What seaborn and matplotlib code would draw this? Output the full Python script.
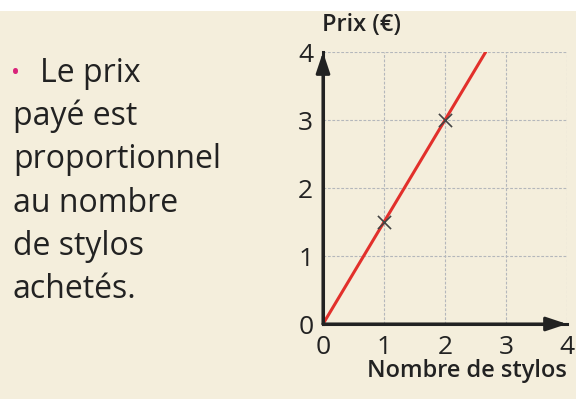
import numpy as np
import pandas as pd
import seaborn as sns
import matplotlib.pyplot as plt
from matplotlib.patches import Rectangle

# points marques sur le graphique
stylos = [1, 2]
prix = [1.5, 3]
prix_unitaire = 1.5

ticks = [0, 1, 2, 3, 4]
tick_labels = ['0', '1', '2', '3', '4']

texte = ['Le prix', 'payé est', 'proportionnel', 'au nombre', 'de stylos', 'achetés.']

xlabel = 'Nombre de stylos'
ylabel = 'Prix (€)'

bg = '#f4eedc'
ink = '#222222'


def draw():
    sns.set_style('white')
    plt.rcParams['font.family'] = ['Open Sans', 'DejaVu Sans']

    fig = plt.figure(figsize=(5.76, 3.99), dpi=100)
    fig.patch.set_facecolor(bg)
    fig.patches.append(Rectangle((0, 1 - 11 / 399), 1, 11 / 399, transform=fig.transFigure,
                                 facecolor='white', edgecolor='none', zorder=0))

    ax = fig.add_axes([323 / 576, 75 / 399, 244 / 576, 272 / 399])
    ax.set_facecolor(bg)

    # droite de proportionnalite y = 1.5 x, coupee a y = 4
    df_line = pd.DataFrame({'x': [0, ticks[-1] / prix_unitaire], 'y': [0, ticks[-1]]})
    sns.lineplot(data=df_line, x='x', y='y', color='#e2302b', lw=2.2, ax=ax, zorder=3)

    df_pts = pd.DataFrame({'stylos': stylos, 'prix': prix})
    sns.scatterplot(data=df_pts, x='stylos', y='prix', marker='x', s=90, color='#444444',
                    linewidth=1.2, ax=ax, zorder=4)

    ax.set_xlim(ticks[0], ticks[-1])
    ax.set_ylim(ticks[0], ticks[-1])
    ax.set_xticks(ticks)
    ax.set_yticks(ticks)
    ax.set_xticklabels(tick_labels)
    ax.set_yticklabels(tick_labels)
    ax.tick_params(axis='both', length=0, labelsize=19, colors=ink)
    ax.tick_params(axis='x', pad=8)
    ax.tick_params(axis='y', pad=7)
    ax.set_xlabel('')
    ax.set_ylabel('')

    for t in ticks[1:]:
        ax.axvline(t, color='#b4b7bb', lw=0.8, ls=(0, (2.5, 1.5)), zorder=1)
        ax.axhline(t, color='#b4b7bb', lw=0.8, ls=(0, (2.5, 1.5)), zorder=1)

    for s in ['top', 'right']:
        ax.spines[s].set_visible(False)
    for s in ['left', 'bottom']:
        ax.spines[s].set_color(ink)
        ax.spines[s].set_linewidth(2.2)
        ax.spines[s].set_zorder(5)

    arrow = dict(arrowstyle='-|>,head_length=0.9,head_width=0.3', color=ink, lw=2.2,
                 shrinkA=0, shrinkB=0, mutation_scale=14)
    ax.annotate('', xy=(ticks[-1], 0), xytext=(0, 0), arrowprops=arrow,
                annotation_clip=False, zorder=6)
    ax.annotate('', xy=(0, ticks[-1]), xytext=(0, 0), arrowprops=arrow,
                annotation_clip=False, zorder=6)

    fig.text(322 / 576, 1 - 25 / 399, ylabel, fontsize=17, fontweight='semibold', color=ink,
             ha='left', va='center')
    fig.text(567 / 576, 1 - 371 / 399, xlabel, fontsize=17, fontweight='semibold', color=ink,
             ha='right', va='center')

    # texte a gauche
    baselines = [82, 125, 168, 212, 255, 298]
    for i, (line, yb) in enumerate(zip(texte, baselines)):
        x0 = 40 if i == 0 else 13
        fig.text(x0 / 576, 1 - yb / 399, line, fontsize=23, color=ink, ha='left', va='baseline')
    fig.text(11 / 576, 1 - 80 / 399, '•', fontsize=17, color='#d9237a', ha='left', va='baseline')

    fig.savefig('out.png', dpi=100, facecolor=fig.get_facecolor())


if __name__ == "__main__":
    draw()
